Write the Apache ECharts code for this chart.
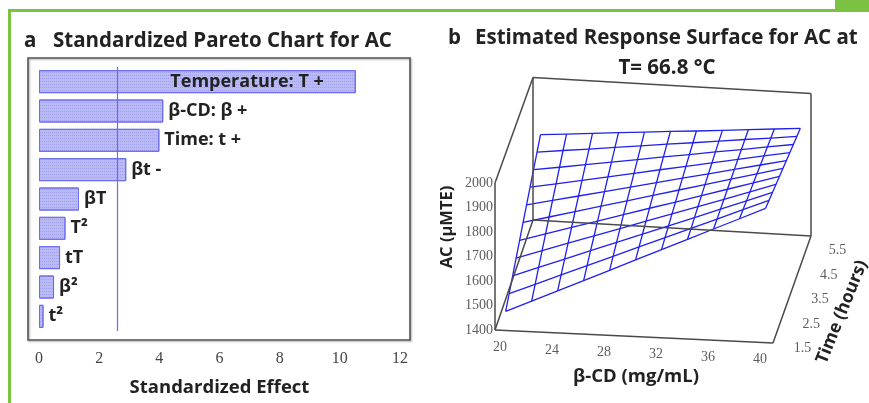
<!DOCTYPE html>
<html><head><meta charset="utf-8">
<script src="https://cdn.jsdelivr.net/npm/echarts@6/dist/echarts.min.js"></script>
<style>html,body{margin:0;padding:0;background:#fff}#c{width:869px;height:403px}</style>
</head><body><div id="c"></div>
<script>
// ---------- Panel a: Pareto chart data ----------
const effectNames = ['Temperature: T +', 'β-CD: β +', 'Time: t +', 'βt -', 'βT', 'T²', 'tT', 'β²', 't²'];
const effectValues = [10.53, 4.13, 4.0, 2.9, 1.33, 0.88, 0.7, 0.5, 0.15];
const criticalValue = 2.6;
const effectTicks = [0, 2, 4, 6, 8, 10, 12];

// ---------- Panel b: response surface data ----------
const betaCD = [20, 22, 24, 26, 28, 30, 32, 34, 36, 38, 40];
const timeHours = [1.5, 1.9, 2.3, 2.7, 3.1, 3.5, 3.9, 4.3, 4.7, 5.1, 5.5];
// rows: time (1.5 -> 5.5), columns: beta-CD (20 -> 40)
const acSurface = [
  [1459, 1506, 1553, 1600, 1647, 1695, 1742, 1789, 1836, 1883, 1930],
  [1491, 1534, 1578, 1621, 1664, 1708, 1751, 1794, 1837, 1881, 1924],
  [1523, 1563, 1602, 1642, 1681, 1721, 1760, 1799, 1839, 1878, 1918],
  [1555, 1591, 1627, 1662, 1698, 1734, 1769, 1805, 1840, 1876, 1912],
  [1587, 1619, 1651, 1683, 1715, 1747, 1778, 1810, 1842, 1874, 1906],
  [1620, 1648, 1676, 1704, 1732, 1760, 1788, 1816, 1844, 1872, 1900],
  [1652, 1676, 1700, 1724, 1748, 1773, 1797, 1821, 1845, 1869, 1893],
  [1684, 1704, 1724, 1745, 1765, 1786, 1806, 1826, 1847, 1867, 1887],
  [1716, 1732, 1749, 1765, 1782, 1799, 1815, 1832, 1848, 1865, 1881],
  [1748, 1761, 1773, 1786, 1799, 1812, 1824, 1837, 1850, 1862, 1875],
  [1780, 1789, 1798, 1807, 1816, 1825, 1833, 1842, 1851, 1860, 1869]
];
const betaTicks = [20, 24, 28, 32, 36, 40];
const timeTicks = [1.5, 2.5, 3.5, 4.5, 5.5];
const acTicks = [1400, 1500, 1600, 1700, 1800, 1900, 2000];

// ---------- 3D view (oblique projection onto a hidden cartesian grid) ----------
const box = { b: [19.3, 40.7], t: [1.32, 5.68], ac: [1400, 2000] };
const view = { ox: 495, oy: 330, exX: 278, exY: 13, exYback: 3, eyX: 38, eyY: -110, ez: 147, ezBack: 4.5 };
function proj(b, t, ac) {
  const u = (b - box.b[0]) / (box.b[1] - box.b[0]);
  const v = (t - box.t[0]) / (box.t[1] - box.t[0]);
  const w = (ac - box.ac[0]) / (box.ac[1] - box.ac[0]);
  return [view.ox + view.exX * u + view.eyX * v,
          view.oy + (view.exY + view.exYback * v) * u + view.eyY * v - (view.ez - view.ezBack * v) * w];
}
function corner(i, j, k) { return proj(box.b[i], box.t[j], box.ac[k]); }
const boxEdges = [
  [[0,0,0],[0,0,1]], [[0,0,1],[0,1,1]], [[0,1,0],[0,1,1]], [[0,1,1],[1,1,1]],
  [[1,1,0],[1,1,1]], [[0,1,0],[1,1,0]], [[0,0,0],[1,0,0]], [[1,0,0],[1,1,0]], [[0,0,0],[0,1,0]]
].map(e => ({ coords: e.map(c => corner(c[0], c[1], c[2])) }));

const meshRows = timeHours.map((t, j) => ({ coords: betaCD.map((b, i) => proj(b, t, acSurface[j][i])) }));
const meshCols = betaCD.map((b, i) => ({ coords: timeHours.map((t, j) => proj(b, t, acSurface[j][i])) }));

const tickFont = { fontFamily: 'Liberation Serif', fontSize: 14, color: '#333' };
const txt = '#222';
const sans = 'Open Sans';
const green = '#7cc242';

const chart = echarts.init(document.getElementById('c'), null, { renderer: 'canvas' });
chart.setOption({
  animation: false,
  backgroundColor: '#fff',
  grid: [
    { left: 39, top: 67, width: 361, height: 264 },
    { left: 0, top: 0, width: 869, height: 403 }
  ],
  xAxis: [
    { gridIndex: 0, type: 'value', min: 0, max: 12, interval: 2,
      axisLine: { show: false }, axisTick: { show: false }, splitLine: { show: false },
      axisLabel: { margin: 20, fontFamily: 'Liberation Serif', fontSize: 16, color: '#444', formatter: v => effectTicks.includes(v) ? String(v) : '' },
      name: 'Standardized Effect', nameLocation: 'middle', nameGap: 47,
      nameTextStyle: { fontFamily: sans, fontWeight: 'bold', fontSize: 18.5, color: txt } },
    { gridIndex: 1, type: 'value', min: 0, max: 869, show: false }
  ],
  yAxis: [
    { gridIndex: 0, type: 'category', data: effectNames, inverse: true, show: false },
    { gridIndex: 1, type: 'value', min: 0, max: 403, inverse: true, show: false }
  ],
  graphic: [
    { type: 'rect', shape: { x: 8, y: 9, width: 3, height: 394 }, style: { fill: green }, silent: true },
    { type: 'rect', shape: { x: 8, y: 9, width: 861, height: 3 }, style: { fill: green }, silent: true },
    { type: 'rect', shape: { x: 835, y: 0, width: 34, height: 12 }, style: { fill: green }, silent: true },
    { type: 'rect', shape: { x: 28, y: 58, width: 382, height: 282 }, z: 1,
      style: { fill: 'none', stroke: '#555', lineWidth: 1.6, shadowBlur: 2, shadowOffsetX: 1, shadowOffsetY: 1, shadowColor: 'rgba(0,0,0,0.35)' }, silent: true },
    { type: 'text', x: 24, y: 41, style: { text: 'a', fontFamily: sans, fontWeight: 'bold', fontSize: 20.5, fill: txt, verticalAlign: 'middle' } },
    { type: 'text', x: 53, y: 41, style: { text: 'Standardized Pareto Chart for AC', fontFamily: sans, fontWeight: 'bold', fontSize: 20.5, fill: txt, verticalAlign: 'middle' } },
    { type: 'text', x: 448, y: 38, style: { text: 'b', fontFamily: sans, fontWeight: 'bold', fontSize: 20.5, fill: txt, verticalAlign: 'middle' } },
    { type: 'text', x: 475, y: 38, style: { text: 'Estimated Response Surface for AC at', fontFamily: sans, fontWeight: 'bold', fontSize: 20.5, fill: txt, verticalAlign: 'middle' } },
    { type: 'text', x: 667, y: 68, style: { text: 'T= 66.8 °C', fontFamily: sans, fontWeight: 'bold', fontSize: 20.5, fill: txt, align: 'center', verticalAlign: 'middle' } },
    { type: 'text', x: 447, y: 227, rotation: Math.PI / 2, style: { text: 'AC (µMTE)', fontFamily: sans, fontWeight: 'bold', fontSize: 16.5, fill: txt, align: 'center', verticalAlign: 'middle' } },
    { type: 'text', x: 636, y: 377, style: { text: 'β-CD (mg/mL)', fontFamily: sans, fontWeight: 'bold', fontSize: 18.5, fill: txt, align: 'center', verticalAlign: 'middle' } },
    { type: 'text', x: 842, y: 312, rotation: 68 * Math.PI / 180, style: { text: 'Time (hours)', fontFamily: sans, fontWeight: 'bold', fontSize: 17.5, fill: txt, align: 'center', verticalAlign: 'middle' } }
  ],
  series: [
    { type: 'bar', xAxisIndex: 0, yAxisIndex: 0, barWidth: 23,
      data: effectValues.map((v, i) => i === 0
        ? { value: v, label: { position: 'insideRight', distance: 32 } }
        : v),
      itemStyle: { color: '#b9b9f4', borderColor: '#6c6cf0', borderWidth: 1,
        decal: { symbol: 'rect', symbolSize: 1, dashArrayX: [1, 1], dashArrayY: [1, 2], rotation: 0, color: 'rgba(120,120,235,0.35)' } },
      label: { show: true, position: 'right', distance: 5, formatter: p => p.name,
        fontFamily: sans, fontWeight: 'bold', fontSize: 18, color: txt },
      markLine: { silent: true, symbol: 'none', label: { show: false },
        lineStyle: { color: '#6a6af2', width: 1.2, type: 'solid' },
        data: [{ xAxis: criticalValue }] } },
    { type: 'lines', coordinateSystem: 'cartesian2d', xAxisIndex: 1, yAxisIndex: 1, polyline: true, silent: true, z: 3,
      data: meshRows.concat(meshCols), lineStyle: { color: '#2020ee', width: 1.3, opacity: 1 } },
    { type: 'lines', coordinateSystem: 'cartesian2d', xAxisIndex: 1, yAxisIndex: 1, polyline: true, silent: true, z: 4,
      data: boxEdges, lineStyle: { color: '#4a4a4a', width: 1.5, opacity: 1 } },
    { type: 'scatter', xAxisIndex: 1, yAxisIndex: 1, symbolSize: 0, silent: true,
      data: betaTicks.map(b => ({ value: proj(b, box.t[0], box.ac[0]), name: String(b) })),
      label: Object.assign({ show: true, position: 'inside', offset: [-4, 17], formatter: p => p.name }, tickFont) },
    { type: 'scatter', xAxisIndex: 1, yAxisIndex: 1, symbolSize: 0, silent: true,
      data: timeTicks.map(t => ({ value: proj(box.b[1], t, box.ac[0]), name: t.toFixed(1) })),
      label: Object.assign({ show: true, position: 'inside', offset: [28, 10], formatter: p => p.name }, tickFont) },
    { type: 'scatter', xAxisIndex: 1, yAxisIndex: 1, symbolSize: 0, silent: true,
      data: acTicks.map(a => ({ value: proj(box.b[0], box.t[0], a), name: String(a) })),
      label: Object.assign({ show: true, position: 'inside', offset: [-16, 0], formatter: p => p.name }, tickFont) }
  ]
});
</script></body></html>
